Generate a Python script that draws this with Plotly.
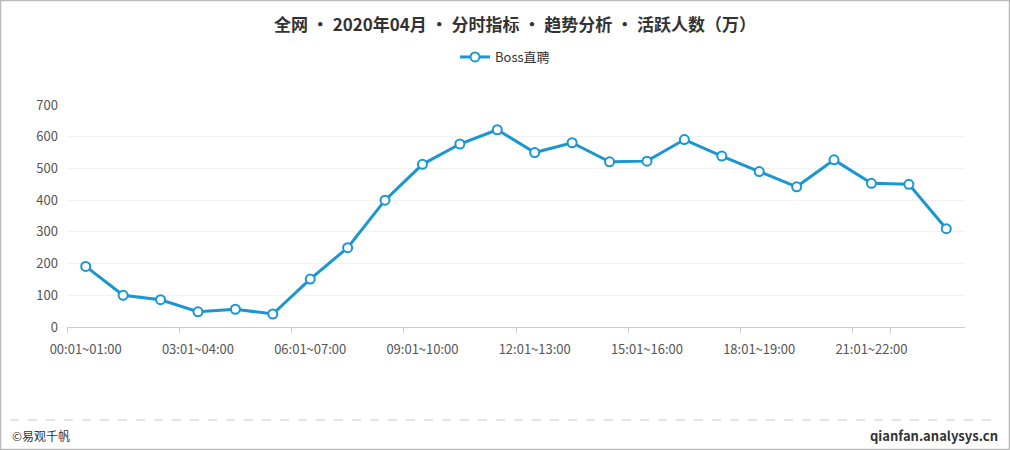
import plotly.graph_objects as go

#?------------------------------------------------------------------
#?  Data
#?------------------------------------------------------------------
hours   = [f"{h:02d}:01~{h+1:02d}:00" for h in range(24)]
active  = [191, 100, 86, 48, 56, 41, 151, 250, 400, 513, 577, 622,
           550, 581, 521, 523, 591, 539, 490, 442, 527, 453, 450, 310]
series_name = "Boss直聘"
title_text  = "全网 • 2020年04月 • 分时指标 • 趋势分析 • 活跃人数（万）"
tick_vals   = [hours[i] for i in range(0, 24, 3)]

#?------------------------------------------------------------------
#?  Layout helpers (pixel -> paper)
#?------------------------------------------------------------------
W, H        = 1010, 450
L, R, T, B  = 67, 45, 105, 123
pw, ph      = W - L - R, H - T - B
px = lambda x: (x - L) / pw
py = lambda y: (H - B - y) / ph

FONT  = "Noto Sans CJK SC, Microsoft YaHei, sans-serif"
COLOR = "#1a96d2"

fig = go.Figure()
fig.add_trace(go.Scatter(
    x=hours, y=active, mode="lines+markers", name=series_name,
    line=dict(color=COLOR, width=3),
    marker=dict(symbol="circle", size=9, color="white",
                line=dict(color=COLOR, width=2)),
))

fig.update_layout(
    width=W, height=H,
    margin=dict(l=L, r=R, t=T, b=B),
    paper_bgcolor="white", plot_bgcolor="white",
    font=dict(family=FONT, color="#555", size=13),
    title=dict(text=f"<b>{title_text}</b>", x=515 / W, xanchor="center",
               y=1 - 25 / H, yanchor="middle",
               font=dict(size=17, color="#333", family=FONT)),
    legend=dict(orientation="h", x=px(505), xanchor="center",
                y=py(57), yanchor="middle",
                font=dict(size=13, color="#333"), bgcolor="rgba(0,0,0,0)"),
    showlegend=True,
    xaxis=dict(type="category", tickmode="array", tickvals=tick_vals,
               showgrid=False, showline=True, linecolor="#cccccc", linewidth=1,
               ticks="outside", ticklen=5, tickcolor="#cccccc", tickangle=0,
               ticklabelstandoff=10,
               tickfont=dict(size=13, color="#555"), range=[-0.5, 23.5]),
    yaxis=dict(range=[0, 700], dtick=100, showgrid=True, gridcolor="#f2f2f2",
               zeroline=False, showline=False, ticks="", ticklabelstandoff=8,
               tickfont=dict(size=13, color="#555")),
)

# x tick marks sit on category boundaries in the reference
fig.update_xaxes(tickson="boundaries")

# outer border
fig.add_shape(type="rect", xref="paper", yref="paper",
              x0=px(0.5), x1=px(W - 0.5), y0=py(H - 0.5), y1=py(0.5),
              line=dict(color="#bbbbbb", width=1.5), layer="above")
# dashed footer separator
fig.add_shape(type="line", xref="paper", yref="paper",
              x0=px(10), x1=px(W - 10), y0=py(420), y1=py(420),
              line=dict(color="#c8c8c8", width=1, dash="dash"))

fig.add_annotation(text="©易观千帆", xref="paper", yref="paper",
                   x=px(10), y=py(435), xanchor="left", yanchor="middle",
                   showarrow=False, font=dict(size=12, color="#333", family=FONT))
fig.add_annotation(text="<b>qianfan.analysys.cn</b>", xref="paper", yref="paper",
                   x=px(W - 10), y=py(435), xanchor="right", yanchor="middle",
                   showarrow=False, font=dict(size=13, color="#333", family=FONT))

# drop the default body margin so the figure fills the window exactly
fig.write_html("out.html", config={"displayModeBar": False},
               post_script="document.body.style.margin='0';document.body.style.overflow='hidden';")
